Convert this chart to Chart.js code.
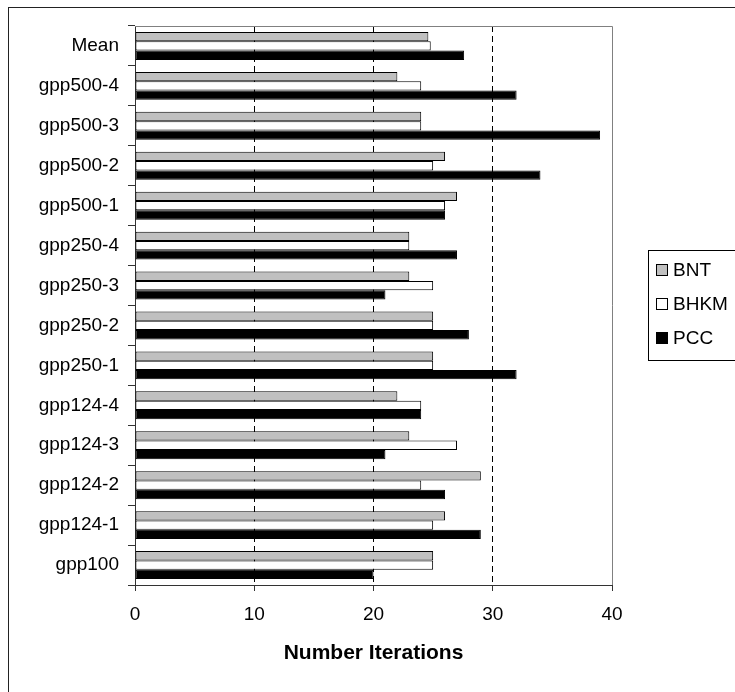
<!DOCTYPE html>
<html>
<head>
<meta charset="utf-8">
<title>Number Iterations</title>
<script src="https://cdn.jsdelivr.net/npm/chart.js@4/dist/chart.umd.min.js"></script>
<style>
    body { margin: 0; background: #fff; }
    canvas { display: block; }
</style>
</head>
<body>
<canvas id="chart" width="735" height="692"></canvas>
<script>
// datos (de arriba hacia abajo)
var categories = ['Mean', 'gpp500-4', 'gpp500-3', 'gpp500-2', 'gpp500-1', 'gpp250-4', 'gpp250-3',
    'gpp250-2', 'gpp250-1', 'gpp124-4', 'gpp124-3', 'gpp124-2', 'gpp124-1', 'gpp100'];
var bnt = [24.6, 22, 24, 26, 27, 23, 23, 25, 25, 22, 23, 29, 26, 25];
var bhkm = [24.8, 24, 24, 25, 26, 23, 25, 25, 25, 24, 27, 24, 25, 25];
var pcc = [27.6, 32, 39, 34, 26, 27, 21, 28, 32, 24, 21, 26, 29, 20];
var xTicks = [0, 10, 20, 30, 40];

var fontFamily = "'Liberation Sans', Arial, sans-serif";

// marco exterior, borde del área y leyenda
var framePlugin = {
    id: 'frame',
    beforeDraw: function (chart) {
        var ctx = chart.ctx;
        ctx.save();
        ctx.fillStyle = '#fff';
        ctx.fillRect(0, 0, chart.width, chart.height);
        ctx.restore();
    },
    afterDraw: function (chart) {
        var ctx = chart.ctx;
        var a = chart.chartArea;
        ctx.save();
        // marco exterior
        ctx.strokeStyle = '#222';
        ctx.lineWidth = 1;
        ctx.strokeRect(8.5, 7.5, chart.width + 20, chart.height + 20);
        // borde superior y derecho del área
        ctx.strokeStyle = '#808080';
        ctx.beginPath();
        ctx.moveTo(a.left, a.top + 0.5);
        ctx.lineTo(a.right + 0.5, a.top + 0.5);
        ctx.lineTo(a.right + 0.5, a.bottom);
        ctx.stroke();

        // leyenda
        var lx = 648, ly = 250, rowH = 34;
        ctx.strokeStyle = '#000';
        ctx.strokeRect(lx + 0.5, ly + 0.5, 120, 110);
        ctx.font = '19px ' + fontFamily;
        ctx.textBaseline = 'middle';
        ctx.textAlign = 'left';
        chart.data.datasets.forEach(function (ds, i) {
            var cy = ly + 20 + i * rowH;
            ctx.fillStyle = ds.backgroundColor;
            ctx.fillRect(656, cy - 6, 12, 12);
            ctx.strokeStyle = '#000';
            ctx.strokeRect(656.5, cy - 5.5, 11, 11);
            ctx.fillStyle = '#000';
            ctx.fillText(ds.label, 673, cy + 1);
        });
        ctx.restore();
    }
};

var ctx = document.getElementById('chart').getContext('2d');
var chart = new Chart(ctx, {
    type: 'bar',
    data: {
        labels: categories,
        datasets: [
            { label: 'BNT', data: bnt, backgroundColor: '#c0c0c0' },
            { label: 'BHKM', data: bhkm, backgroundColor: '#ffffff' },
            { label: 'PCC', data: pcc, backgroundColor: '#000000' }
        ]
    },
    options: {
        indexAxis: 'y',
        responsive: false,
        animation: false,
        devicePixelRatio: 1,
        layout: { padding: { left: 0, right: 123, top: 26, bottom: 0 } },
        datasets: {
            bar: {
                borderColor: '#000',
                borderWidth: 1,
                borderSkipped: false,
                categoryPercentage: 0.7,
                barPercentage: 1.0
            }
        },
        plugins: {
            legend: { display: false },
            tooltip: { enabled: false }
        },
        scales: {
            x: {
                min: 0,
                max: 40,
                afterBuildTicks: function (scale) {
                    scale.ticks = xTicks.map(function (v) { return { value: v }; });
                },
                afterFit: function (scale) { scale.height = 107; },
                grid: {
                    color: function (c) {
                        return (c.tick && (c.tick.value === 0 || c.tick.value === 40)) ? 'rgba(0,0,0,0)' : '#000';
                    },
                    lineWidth: 1,
                    tickLength: 6,
                    tickColor: '#333'
                },
                border: { color: '#333', width: 1, dash: [6, 4] },
                ticks: {
                    color: '#000',
                    padding: 12,
                    maxRotation: 0,
                    font: { family: fontFamily, size: 19 }
                },
                title: {
                    display: true,
                    text: 'Number Iterations',
                    color: '#000',
                    padding: { top: 0, bottom: 26 },
                    font: { family: fontFamily, size: 21, weight: 'bold' }
                }
            },
            y: {
                afterFit: function (scale) { scale.width = 135; },
                grid: {
                    offset: true,
                    drawOnChartArea: false,
                    tickLength: 7,
                    color: '#333'
                },
                border: { color: '#333', width: 1 },
                ticks: {
                    color: '#000',
                    padding: 9,
                    autoSkip: false,
                    font: { family: fontFamily, size: 19 }
                }
            }
        }
    },
    plugins: [framePlugin]
});
</script>
</body>
</html>
